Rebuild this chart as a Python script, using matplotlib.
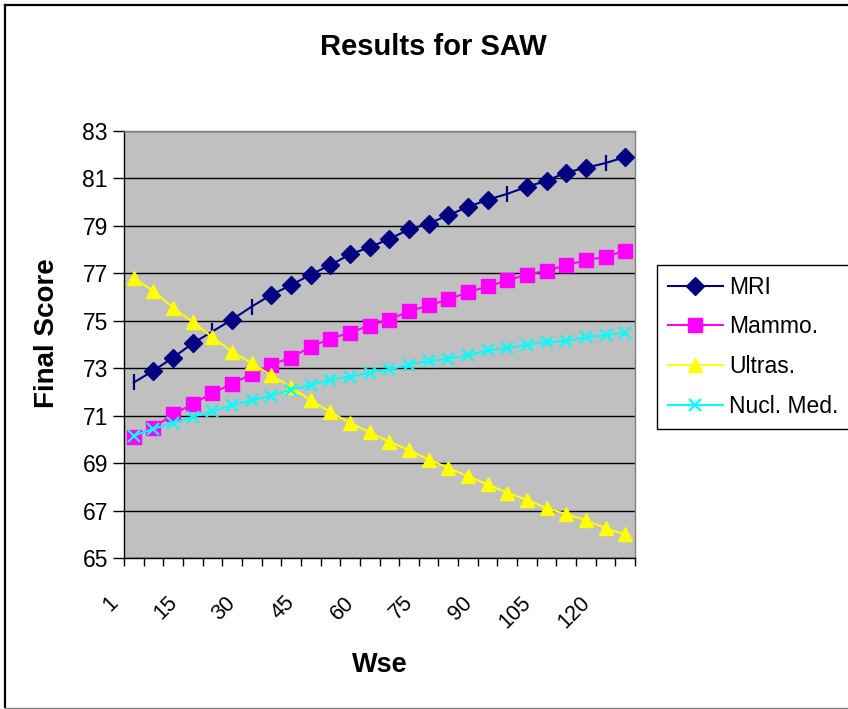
import matplotlib
matplotlib.use('Agg')
import matplotlib.pyplot as plt
from matplotlib.transforms import ScaledTranslation
from matplotlib.lines import Line2D
import numpy as np

# ---------------- data ----------------
wse = [1, 5, 10, 15, 20, 25, 30, 35, 40, 45, 50, 55, 60, 65, 70, 75, 80, 85,
       90, 95, 100, 105, 110, 115, 120, 125]
mri = [72.4, 72.9, 73.45, 74.05, 74.55, 75.05, 75.6, 76.1, 76.5, 76.95, 77.35,
       77.8, 78.1, 78.45, 78.85, 79.1, 79.45, 79.8, 80.1, 80.35, 80.65, 80.9,
       81.25, 81.45, 81.65, 81.9]
mammo = [70.1, 70.5, 71.05, 71.5, 71.95, 72.35, 72.75, 73.15, 73.45, 73.9,
         74.25, 74.5, 74.8, 75.05, 75.4, 75.65, 75.9, 76.2, 76.45, 76.7, 76.95,
         77.1, 77.35, 77.55, 77.7, 77.95]
ultras = [76.8, 76.25, 75.55, 74.95, 74.3, 73.7, 73.2, 72.7, 72.2, 71.65,
          71.15, 70.7, 70.3, 69.9, 69.55, 69.15, 68.8, 68.45, 68.1, 67.75,
          67.45, 67.1, 66.85, 66.6, 66.25, 66.0]
nucl = [70.15, 70.45, 70.7, 70.95, 71.2, 71.45, 71.65, 71.85, 72.1, 72.3,
        72.5, 72.65, 72.8, 72.95, 73.15, 73.3, 73.4, 73.55, 73.75, 73.85, 74.0,
        74.1, 74.15, 74.3, 74.4, 74.5]
series_names = ["MRI", "Mammo.", "Ultras.", "Nucl. Med."]
tick_labels = [str(v) for v in wse][::3]
mri_bar_marks = [0, 4, 6, 19, 24]   # points drawn as a bar instead of a diamond
y_ticks = list(range(65, 84, 2))

plt.rcParams['font.family'] = ['Liberation Sans', 'DejaVu Sans']

W, H = 848, 709
fig = plt.figure(figsize=(W / 100, H / 100), dpi=100)
ax = fig.add_axes([124 / W, (H - 558) / H, (635 - 124) / W, (558 - 131) / H])
ax.set_facecolor('#C0C0C0')

x = np.arange(len(wse))
mri_a = np.array(mri)
keep = np.array([i for i in x if i not in mri_bar_marks])
bars = np.array(mri_bar_marks)

styles = [
    dict(color='#000080', marker='D', ms=9.5, mfc='#000080', mec='#000080', mew=1),
    dict(color='#FF00FF', marker='s', ms=9.5, mfc='#FF00FF', mec='#FF00FF', mew=1),
    dict(color='#FFFF00', marker='^', ms=10.5, mfc='#FFFF00', mec='#FFFF00', mew=1),
    dict(color='#00FFFF', marker='x', ms=9, mfc='#00FFFF', mec='#00FFFF', mew=1.6),
]
lw = 1.5

# MRI
ax.plot(x, mri_a, color=styles[0]['color'], lw=lw, zorder=3)
ax.plot(x[keep], mri_a[keep], linestyle='none', marker='D', ms=9.5,
        color='#000080', zorder=3)
ax.plot(x[bars], mri_a[bars], linestyle='none', marker='|', ms=11, mew=1.6,
        color='#000080', zorder=3)
# others
for data, st in zip([mammo, ultras, nucl], styles[1:]):
    ax.plot(x, data, lw=lw, linestyle='-', zorder=3, **st)

ax.set_xlim(-0.5, len(wse) - 0.5)
ax.set_ylim(65, 83)
ax.set_yticks(y_ticks)
ax.yaxis.grid(True, color='black', lw=1)
ax.set_axisbelow(True)

for s in ['left', 'bottom']:
    ax.spines[s].set_color('black')
    ax.spines[s].set_linewidth(1)
for s in ['top', 'right']:
    ax.spines[s].set_color('#808080')
    ax.spines[s].set_linewidth(1)

ax.tick_params(axis='y', direction='out', length=8, width=1, pad=3.6,
               labelsize=16.5, colors='black')
ax.set_xticks(x[::3])
ax.set_xticklabels(tick_labels, rotation=45, ha='right', va='center',
                   rotation_mode='anchor')
ax.set_xticks(np.arange(-0.5, len(wse), 1), minor=True)
ax.tick_params(axis='x', which='major', length=0, pad=30, labelsize=15.5)
ax.tick_params(axis='x', which='minor', length=6, width=1, direction='out')
off = ScaledTranslation(-19 / 100, 0, fig.dpi_scale_trans)
for lbl in ax.get_xticklabels():
    lbl.set_transform(lbl.get_transform() + off)

ax.set_ylabel('Final Score', fontsize=20, fontweight='bold')
ax.yaxis.set_label_coords((47 - 124) / (635 - 124), (558 - 333) / (558 - 131))
ax.yaxis.label.set_va('center')
ax.set_xlabel('Wse', fontsize=19.5, fontweight='bold')
ax.xaxis.set_label_coords(0.5, (558 - 665) / (558 - 131))
ax.xaxis.label.set_va('center')

fig.text(433 / W, 1 - 47 / H, 'Results for SAW', ha='center', va='center',
         fontsize=21, fontweight='bold')

handles = [Line2D([], [], lw=lw, **st) for st in styles]
leg = fig.legend(handles, series_names, loc='upper left',
                 bbox_to_anchor=(657 / W, 1 - 265 / H),
                 bbox_transform=fig.transFigure, frameon=True, fancybox=False,
                 edgecolor='black', framealpha=1, fontsize=16.5,
                 handlelength=2.4, handletextpad=0.3, labelspacing=0.74,
                 borderpad=0.46, borderaxespad=0)
leg.get_frame().set_linewidth(1.0)

# chart area border
fig.add_artist(Line2D([5 / W, 5 / W], [1 - 5 / H, 1 - 707 / H],
                      transform=fig.transFigure, color='black', lw=1.6))
fig.add_artist(Line2D([5 / W, 1], [1 - 5 / H, 1 - 5 / H],
                      transform=fig.transFigure, color='black', lw=1.6))
fig.add_artist(Line2D([5 / W, 1], [1 - 707.5 / H, 1 - 707.5 / H],
                      transform=fig.transFigure, color='#808080', lw=1))

fig.savefig('out.png', dpi=100)
